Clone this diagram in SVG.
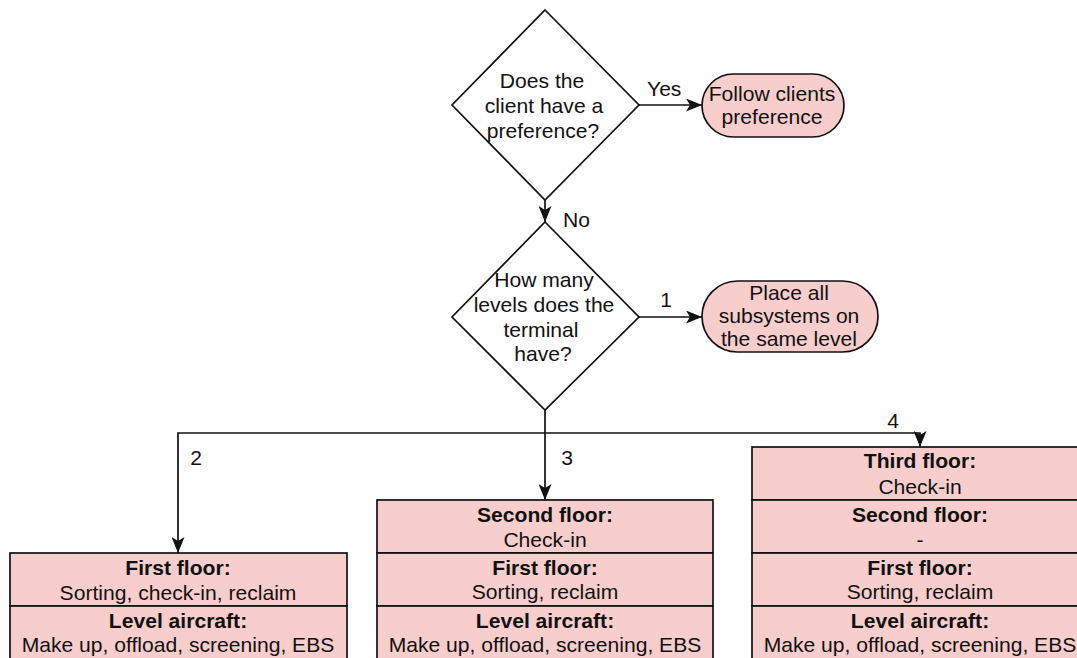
<svg xmlns="http://www.w3.org/2000/svg" width="1077" height="658" viewBox="0 0 1077 658">
  <style>
    text { font-family: "Liberation Sans", Arial, sans-serif; font-size: 21.1px; fill: #111; text-anchor: middle; }
    .b { font-weight: bold; }
    .lbl { text-anchor: start; }
    .dec { fill: #fff; stroke: #111; stroke-width: 1.7; }
    .term { fill: #f8cecc; stroke: #111; stroke-width: 1.7; }
    .cell { fill: #f8cecc; stroke: #111; stroke-width: 1.7; }
    .edge { fill: none; stroke: #111; stroke-width: 1.7; }
  </style>
  <defs>
    <marker id="arrow" viewBox="0 0 16 13" refX="16" refY="6.5" markerWidth="16" markerHeight="13" markerUnits="userSpaceOnUse" orient="auto">
      <path d="M0,0 L16,6.5 L0,13 L4,6.5 Z" fill="#111"/>
    </marker>
  </defs>

  <!-- connectors -->
  <g id="connectors">
    <path class="edge" d="M639,105 H702" marker-end="url(#arrow)"/>
    <path class="edge" d="M545,200 V222" marker-end="url(#arrow)"/>
    <path class="edge" d="M639,317 H702" marker-end="url(#arrow)"/>
    <path class="edge" d="M545,410 V433 H178 V553" marker-end="url(#arrow)"/>
    <path class="edge" d="M545,433 V500" marker-end="url(#arrow)"/>
    <path class="edge" d="M545,433 H920 V447" marker-end="url(#arrow)"/>
    <text class="lbl" x="647" y="96">Yes</text>
    <text class="lbl" x="563" y="227">No</text>
    <text x="666" y="307">1</text>
    <text x="196" y="465">2</text>
    <text x="567" y="465">3</text>
    <text x="893" y="428">4</text>
  </g>

  <!-- decision: client preference -->
  <g id="q-preference">
    <polygon class="dec" points="545,10 639,105 545,200 452,105"/>
    <text x="542" y="88">Does the</text>
    <text x="544" y="113">client have a</text>
    <text x="543" y="138">preference?</text>
  </g>

  <!-- terminal: follow preference -->
  <g id="t-follow">
    <rect class="term" x="702" y="74" width="142" height="63" rx="31.5"/>
    <text x="772" y="101">Follow clients</text>
    <text x="772" y="124">preference</text>
  </g>

  <!-- decision: number of levels -->
  <g id="q-levels">
    <polygon class="dec" points="545,222 639,317 545,410 452,317"/>
    <text x="544" y="287">How many</text>
    <text x="544" y="312">levels does the</text>
    <text x="541" y="337">terminal</text>
    <text x="543" y="361">have?</text>
  </g>

  <!-- terminal: single level -->
  <g id="t-single">
    <rect class="term" x="702" y="281" width="176" height="71" rx="35.5"/>
    <text x="789" y="300">Place all</text>
    <text x="789" y="323">subsystems on</text>
    <text x="789" y="346">the same level</text>
  </g>

  <!-- two levels -->
  <g id="levels-2">
    <rect class="cell" x="10" y="553" width="337" height="53"/>
    <rect class="cell" x="10" y="606" width="337" height="55"/>
    <text class="b" x="178" y="575">First floor:</text>
    <text x="178" y="600">Sorting, check-in, reclaim</text>
    <text class="b" x="178" y="628">Level aircraft:</text>
    <text x="178" y="652">Make up, offload, screening, EBS</text>
  </g>

  <!-- three levels -->
  <g id="levels-3">
    <rect class="cell" x="377" y="500" width="336" height="53"/>
    <rect class="cell" x="377" y="553" width="336" height="53"/>
    <rect class="cell" x="377" y="606" width="336" height="55"/>
    <text class="b" x="545" y="522">Second floor:</text>
    <text x="545" y="547">Check-in</text>
    <text class="b" x="545" y="575">First floor:</text>
    <text x="545" y="599">Sorting, reclaim</text>
    <text class="b" x="545" y="628">Level aircraft:</text>
    <text x="545" y="652">Make up, offload, screening, EBS</text>
  </g>

  <!-- four levels -->
  <g id="levels-4">
    <rect class="cell" x="752" y="447" width="336" height="53"/>
    <rect class="cell" x="752" y="500" width="336" height="53"/>
    <rect class="cell" x="752" y="553" width="336" height="53"/>
    <rect class="cell" x="752" y="606" width="336" height="55"/>
    <text class="b" x="920" y="468">Third floor:</text>
    <text x="920" y="494">Check-in</text>
    <text class="b" x="920" y="522">Second floor:</text>
    <text x="920" y="547">-</text>
    <text class="b" x="920" y="575">First floor:</text>
    <text x="920" y="599">Sorting, reclaim</text>
    <text class="b" x="920" y="628">Level aircraft:</text>
    <text x="920" y="652">Make up, offload, screening, EBS</text>
  </g>
</svg>
